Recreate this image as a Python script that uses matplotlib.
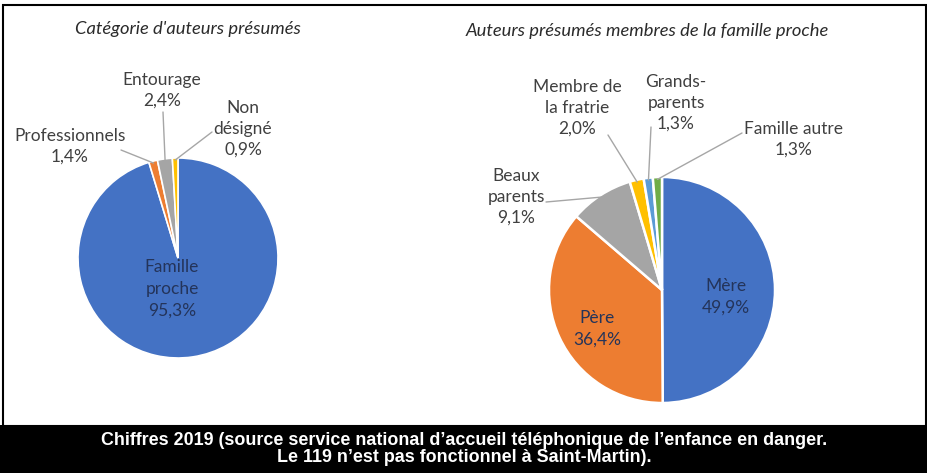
import numpy as np
import matplotlib
matplotlib.use('Agg')
import matplotlib.pyplot as plt
from matplotlib.patches import Rectangle
from matplotlib import font_manager

# données
cat_labels = ['Famille\nproche\n95,3%', 'Professionnels\n1,4%', 'Entourage\n2,4%', 'Non\ndésigné\n0,9%']
cat_values = [95.3, 1.4, 2.4, 0.9]
cat_colors = ['#4472C4', '#ED7D31', '#A5A5A5', '#FFC000']

fam_labels = ['Mère\n49,9%', 'Père\n36,4%', 'Beaux\nparents\n9,1%', 'Membre de\nla fratrie\n2,0%',
              'Grands-\nparents\n1,3%', 'Famille autre\n1,3%']
fam_values = [49.9, 36.4, 9.1, 2.0, 1.3, 1.3]
fam_colors = ['#4472C4', '#ED7D31', '#A5A5A5', '#FFC000', '#5B9BD5', '#70AD47']

W, H = 928, 473
fig = plt.figure(figsize=(W / 100, H / 100), dpi=100)
fig.patch.set_facecolor('white')

FONT = ['Lato', 'DejaVu Sans']
TXT = '#404040'
INNER = '#24345a'
LEAD = '#a6a6a6'

# police étroite pour le bandeau, si dispo
noms = {f.name for f in font_manager.fontManager.ttflist}
BAND = [n for n in ['Liberation Sans Narrow', 'DejaVu Sans Condensed', 'Liberation Sans'] if n in noms][:1] + ['DejaVu Sans']


def fx(x):
    return x / W


def fy(y):
    return 1 - y / H


def pie_axes(cx, cy, r):
    ax = fig.add_axes([fx(cx - r), fy(cy + r), 2 * r / W, 2 * r / H])
    ax.axis('off')
    return ax


def mid_point(w, rad=1.0):
    a = np.deg2rad((w.theta1 + w.theta2) / 2)
    return rad * np.cos(a), rad * np.sin(a)


# cadre
fig.add_artist(Rectangle((fx(3), fy(426)), fx(926) - fx(3), fy(5) - fy(426),
                         transform=fig.transFigure, fill=False, edgecolor='black', lw=1.5))

# camembert gauche
ax1 = pie_axes(178, 258, 100)
w1, _ = ax1.pie(cat_values, colors=cat_colors, startangle=90, counterclock=False, radius=1,
                wedgeprops=dict(edgecolor='white', linewidth=1.2))
ax1.set_xlim(-1, 1)
ax1.set_ylim(-1, 1)
ax1.set_aspect('equal')
fig.text(fx(75), fy(29), "Catégorie d'auteurs présumés", fontsize=13.2, style='italic',
         color='#2b2b2b', family=FONT, va='center', ha='left')

# étiquettes
fig.text(fx(172), fy(289), cat_labels[0], ha='center', va='center', fontsize=12.5,
         color=INNER, family=FONT, linespacing=1.45)
pos1 = {1: (70, 146), 2: (162, 90), 3: (243, 129)}
leads1 = {1: (121, 150), 2: (163, 112), 3: (212, 132)}
for i, (px, py) in pos1.items():
    fig.text(fx(px), fy(py), cat_labels[i], ha='center', va='center', fontsize=12.5,
             color=TXT, family=FONT, linespacing=1.35)
    lx, ly = leads1[i]
    ax1.annotate('', xy=mid_point(w1[i], 0.98), xycoords='data',
                 xytext=(fx(lx), fy(ly)), textcoords='figure fraction',
                 arrowprops=dict(arrowstyle='-', color=LEAD, lw=1, shrinkA=0, shrinkB=0))

# camembert droit
ax2 = pie_axes(662, 290, 113)
w2, _ = ax2.pie(fam_values, colors=fam_colors, startangle=90, counterclock=False, radius=1,
                wedgeprops=dict(edgecolor='white', linewidth=1.8))
ax2.set_xlim(-1, 1)
ax2.set_ylim(-1, 1)
ax2.set_aspect('equal')
fig.text(fx(466), fy(31), 'Auteurs présumés membres de la famille proche', fontsize=13.2,
         style='italic', color='#2b2b2b', family=FONT, va='center', ha='left')

fig.text(fx(726), fy(297), fam_labels[0], ha='center', va='center', fontsize=12.5,
         color=INNER, family=FONT, linespacing=1.45)
fig.text(fx(597), fy(329), fam_labels[1], ha='center', va='center', fontsize=12.5,
         color=INNER, family=FONT, linespacing=1.45)
pos2 = {2: (516, 197), 3: (577, 108), 4: (676, 103), 5: (794, 139)}
leads2 = {2: (546, 202), 3: (608, 135), 4: (651, 127), 5: (742, 133)}
for i, (px, py) in pos2.items():
    fig.text(fx(px), fy(py), fam_labels[i], ha='center', va='center', fontsize=12.5,
             color=TXT, family=FONT, linespacing=1.35)
    lx, ly = leads2[i]
    ax2.annotate('', xy=mid_point(w2[i], 0.98), xycoords='data',
                 xytext=(fx(lx), fy(ly)), textcoords='figure fraction',
                 arrowprops=dict(arrowstyle='-', color=LEAD, lw=1, shrinkA=0, shrinkB=0))

# bandeau du bas
fig.add_artist(Rectangle((0, 0), 1, fy(425), transform=fig.transFigure,
                         facecolor='black', edgecolor='none'))
fig.text(0.5, fy(449), "Chiffres 2019 (source service national d’accueil téléphonique de l’enfance en danger.\n"
         "Le 119 n’est pas fonctionnel à Saint-Martin).", ha='center', va='center', color='white',
         fontsize=12.9, fontweight='bold', family=BAND, linespacing=0.95)

fig.savefig('out.png', dpi=100, facecolor='white')
